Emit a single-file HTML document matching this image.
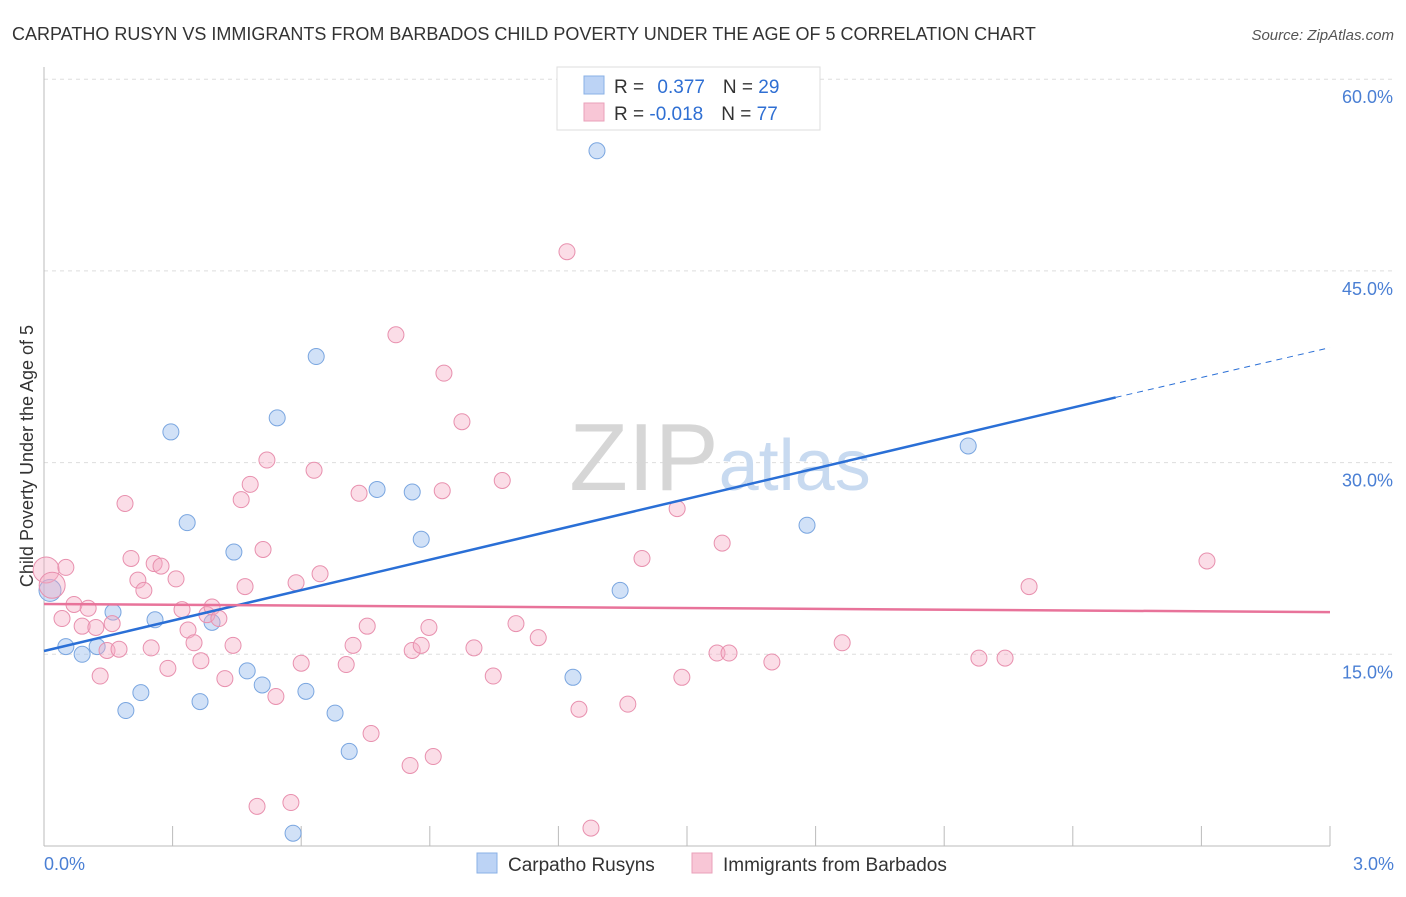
<!DOCTYPE html>
<html><head><meta charset="utf-8"><style>
body{margin:0;background:#fff;font-family:"Liberation Sans",sans-serif;}
svg text{font-family:"Liberation Sans",sans-serif;}
</style></head><body>
<svg id="chart" width="1406" height="892" xmlns="http://www.w3.org/2000/svg">
<text x="12" y="40" font-size="18" fill="#333">CARPATHO RUSYN VS IMMIGRANTS FROM BARBADOS CHILD POVERTY UNDER THE AGE OF 5 CORRELATION CHART</text>
<text x="1394" y="40" font-size="15" fill="#555" text-anchor="end" font-style="italic">Source: ZipAtlas.com</text>
<g id="grid"></g>
<text x="720" y="490" font-size="96" text-anchor="middle" fill="#ddd" font-family="Liberation Serif"><tspan fill="#d6d6d6">ZIP</tspan><tspan fill="#c8daf0" font-family="Liberation Sans" font-size="72">atlas</tspan></text>
<line x1="44" y1="67" x2="44" y2="846" stroke="#bbb"/>
<line x1="44" y1="846" x2="1330" y2="846" stroke="#bbb"/>
<text transform="translate(33,456) rotate(-90)" font-size="18" fill="#333" text-anchor="middle">Child Poverty Under the Age of 5</text>
<text x="44" y="870" font-size="18" fill="#4a7fd4">0.0%</text>
<text x="1394" y="870" font-size="18" fill="#4a7fd4" text-anchor="end">3.0%</text>
<g id="marks"></g>
<g>
<rect x="557" y="67" width="263" height="63" fill="#fff" stroke="#ddd"/>
<rect x="584" y="76" width="20" height="18" fill="#bcd3f5" stroke="#8ab0e6"/>
<rect x="584" y="103" width="20" height="18" fill="#f8c6d6" stroke="#eaa0ba"/>
<text x="614" y="93" font-size="19" fill="#333">R = <tspan fill="#2f6fd3" dx="8">0.377</tspan><tspan dx="18">N = </tspan><tspan fill="#2f6fd3">29</tspan></text>
<text x="614" y="120" font-size="19" fill="#333">R = <tspan fill="#2f6fd3">-0.018</tspan><tspan dx="18">N = </tspan><tspan fill="#2f6fd3">77</tspan></text>
</g>
<g>
<rect x="477" y="853" width="20" height="20" fill="#bcd3f5" stroke="#8ab0e6"/>
<text x="508" y="871" font-size="19" fill="#333">Carpatho Rusyns</text>
<rect x="692" y="853" width="20" height="20" fill="#f8c6d6" stroke="#eaa0ba"/>
<text x="723" y="871" font-size="19" fill="#333">Immigrants from Barbados</text>
</g>
</svg>
<script>
const yTicks=[15,30,45,60];
const xTicks=[0,0.3,0.6,0.9,1.2,1.5,1.8,2.1,2.4,2.7,3.0];
const blueX=[0.014,0.051,0.089,0.124,0.161,0.191,0.226,0.259,0.296,0.334,0.364,0.392,0.443,0.474,0.509,0.544,0.611,0.635,0.679,0.712,0.777,0.859,0.880,1.234,1.290,1.344,1.780,2.156,0.581];
const blueY=[20.0,15.6,15.0,15.6,18.3,10.6,12.0,17.7,32.4,25.3,11.3,17.5,23.0,13.7,12.6,33.5,12.1,38.3,10.4,7.4,27.9,27.7,24.0,13.2,54.4,20.0,25.1,31.3,1.0];
const pinkX=[0.005,0.019,0.042,0.051,0.070,0.089,0.103,0.121,0.131,0.147,0.159,0.175,0.189,0.203,0.219,0.233,0.250,0.257,0.273,0.289,0.308,0.322,0.336,0.350,0.366,0.380,0.392,0.408,0.422,0.441,0.460,0.469,0.481,0.497,0.511,0.520,0.541,0.576,0.588,0.600,0.630,0.644,0.705,0.721,0.735,0.754,0.763,0.821,0.854,0.859,0.880,0.898,0.908,0.929,0.933,0.975,1.003,1.048,1.069,1.101,1.153,1.220,1.248,1.276,1.362,1.395,1.477,1.488,1.570,1.582,1.598,1.698,1.862,2.181,2.242,2.298,2.713];
const pinkY=[21.6,20.4,17.8,21.8,18.9,17.2,18.6,17.1,13.3,15.3,17.4,15.4,26.8,22.5,20.8,20.0,15.5,22.1,21.9,13.9,20.9,18.5,16.9,15.9,14.5,18.1,18.7,17.8,13.1,15.7,27.1,20.3,28.3,3.1,23.2,30.2,11.7,3.4,20.6,14.3,29.4,21.3,14.2,15.7,27.6,17.2,8.8,40.0,6.3,15.3,15.7,17.1,7.0,27.8,37.0,33.2,15.5,13.3,28.6,17.4,16.3,46.5,10.7,1.4,11.1,22.5,26.4,13.2,15.1,23.7,15.1,14.4,15.9,14.7,14.7,20.3,22.3];
const blueTrend=[15.26,35.1,39.0]; // at x=0, 2.5 (solid end), 3.0
const pinkTrend=[18.94,18.3];
const NS="http://www.w3.org/2000/svg";
const sx=v=>44+v/3*1286;
const sy=v=>846-v*12.78;
function mk(tag,attrs,parent){const e=document.createElementNS(NS,tag);for(const k in attrs)e.setAttribute(k,attrs[k]);parent.appendChild(e);return e;}
const grid=document.getElementById('grid'),marks=document.getElementById('marks');
yTicks.forEach(t=>{
 const l=mk('line',{x1:44,x2:1394,y1:sy(t),y2:sy(t),stroke:'#ddd','stroke-dasharray':'4,4'},grid);
 
 
 const tx=mk('text',{x:1393,y:sy(t)+24,'font-size':18,fill:'#4a7fd4','text-anchor':'end'},grid);
 tx.textContent=t.toFixed(1)+'%';
 
 
});
xTicks.forEach(t=>{
 const l=mk('line',{x1:sx(t),x2:sx(t),y1:826,y2:846,stroke:'#bbb'},grid);
 
 
});
blueX.forEach((x,i)=>{
 const c=mk('circle',{cx:sx(x),cy:sy(blueY[i]),r:i==0?11:8,fill:'rgba(163,196,240,0.5)',stroke:'#7aa6e0','stroke-width':1},marks);
 
 
});
pinkX.forEach((x,i)=>{
 const c=mk('circle',{cx:sx(x),cy:sy(pinkY[i]),r:i<2?13:8,fill:'rgba(244,170,195,0.4)',stroke:'#e890ae','stroke-width':1},marks);
 
 
});
const b1=mk('line',{x1:sx(0),y1:sy(blueTrend[0]),x2:sx(2.5),y2:sy(blueTrend[1]),stroke:'#2a6fd6','stroke-width':2.5},marks);


const b2=mk('line',{x1:sx(2.5),y1:sy(blueTrend[1]),x2:sx(3.0),y2:sy(blueTrend[2]),stroke:'#2a6fd6','stroke-width':1,'stroke-dasharray':'6,5'},marks);


const p1=mk('line',{x1:sx(0),y1:sy(pinkTrend[0]),x2:sx(3.0),y2:sy(pinkTrend[1]),stroke:'#e8739a','stroke-width':2.5},marks);


</script>
</body></html>
